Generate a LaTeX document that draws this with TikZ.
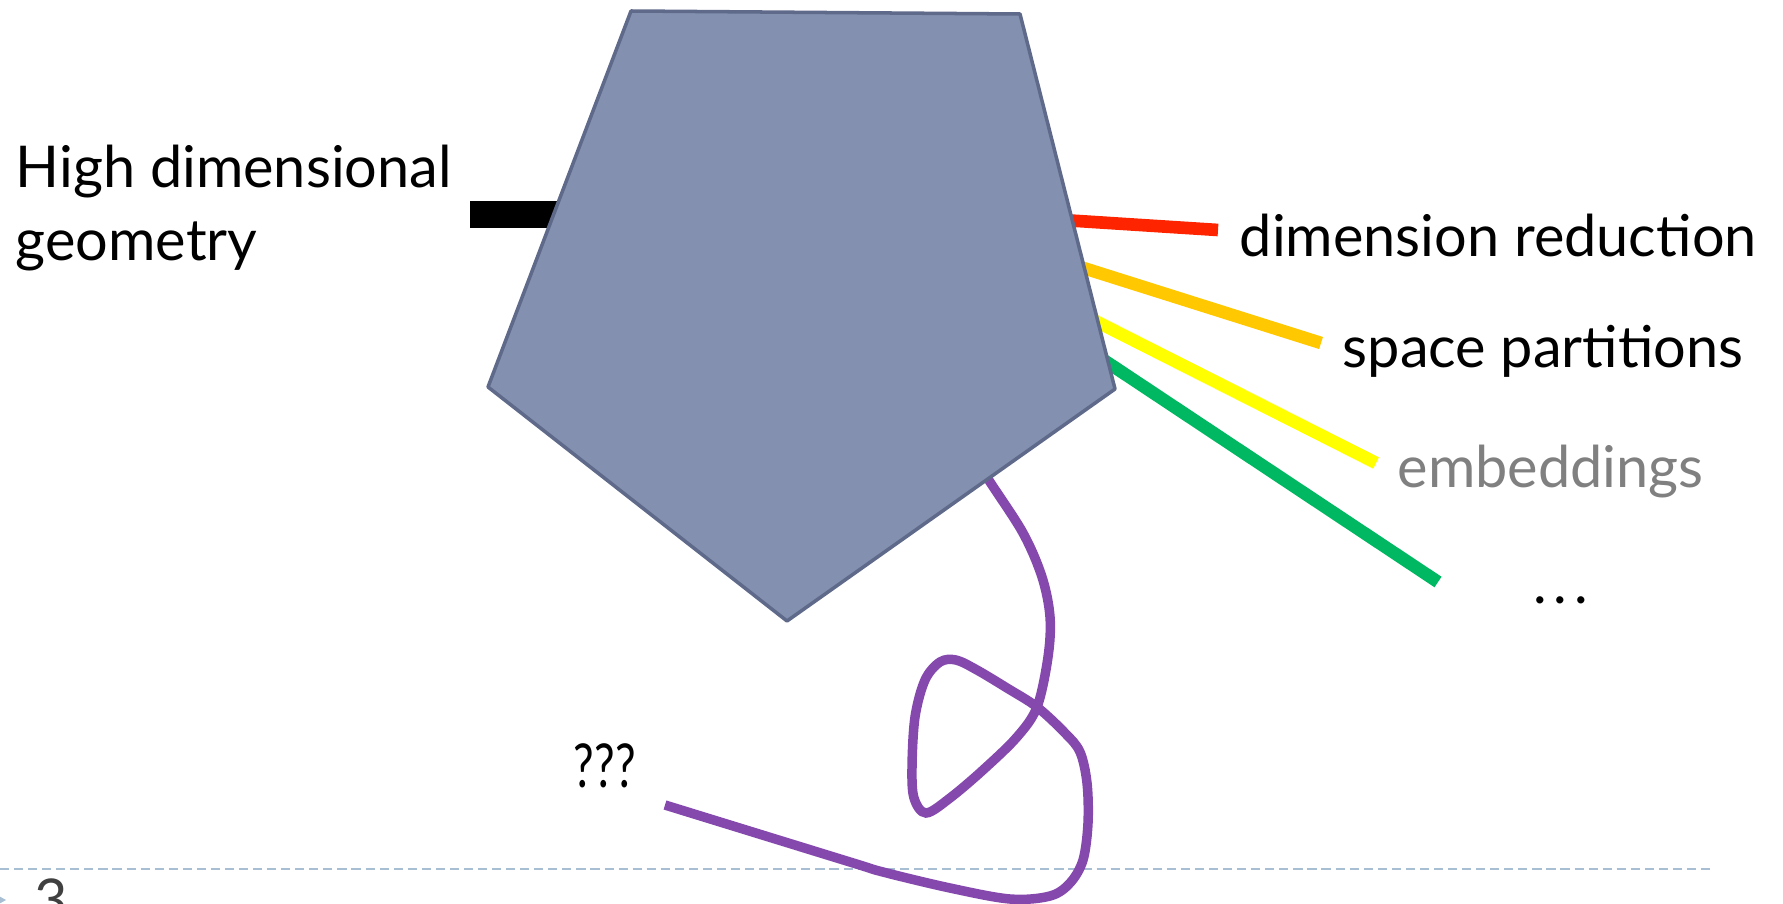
\documentclass[tikz,border=0pt]{standalone}
\usepackage{fontspec}
\setmainfont{Lato}
\usetikzlibrary{positioning}
\definecolor{penfill}{HTML}{8390B0}
\definecolor{penline}{HTML}{5F6A8A}
\definecolor{redsp}{HTML}{FF2400}
\definecolor{orangesp}{HTML}{FFC800}
\definecolor{yellowsp}{HTML}{FFFF00}
\definecolor{greensp}{HTML}{00B862}
\definecolor{loopcol}{HTML}{8549AE}
\definecolor{footcol}{HTML}{A7BED3}
\tikzset{lbl/.style = {font=\fontsize{16.4}{20.8}\selectfont, inner sep=0pt, anchor=base west},
  spoke/.style = {line width=3.6pt}}
\begin{document}
\begin{tikzpicture}[x=.1mm, y=-.1mm]
      \useasboundingbox (0,0) rectangle (1783,903);
      \draw[footcol, line width=.8pt, dash pattern=on 2.6pt off 1.4pt] (0,869) -- (1710,869);
      \fill[footcol] (-12,890) -- (6,900) -- (-12,910) -- cycle;
      \node[lbl, anchor=north west, text=black!75] (page) at (34,878) {3};
      \coordinate (barS) at (470,214.5);
      \coordinate (barE) at (600,214.5);
      \draw[line width=7.7pt] (barS) -- (barE);
      \coordinate (redS) at (1000,216);   \coordinate (redE) at (1218,230);
      \coordinate (orS) at (1020,248);    \coordinate (orE) at (1321,343);
      \coordinate (yeS) at (1040,293);    \coordinate (yeE) at (1376,463);
      \coordinate (grS) at (1060,331);    \coordinate (grE) at (1438,582);
      \draw[spoke, redsp] (redS) -- (redE);
      \draw[spoke, orangesp] (orS) -- (orE);
      \draw[spoke, yellowsp] (yeS) -- (yeE);
      \draw[spoke, greensp] (grS) -- (grE);
      \draw[loopcol, line width=2.7pt, smooth, tension=.55]
        plot coordinates{(975,458) (990,482) (1023,533) (1042,577) (1050,617)
          (1048,657) (1037,707) (1017,737) (983,770) (950,798) (926,813)
          (914,798) (912,767) (915,717) (925,680) (940,662) (956,660)
          (977,670) (1007,688) (1037,707) (1065,733) (1080,752) (1087,783)
          (1088,823) (1083,860) (1070,883) (1050,896) (1010,899) (950,888)
          (883,872) (850,862) (665,805)};
      \draw[penline, fill=penfill, line width=1pt, line join=round]
        (631,11) -- (1020,14) -- (1115,389) -- (787,621) -- (488,387) -- cycle;
      \node[lbl, anchor=north west, align=left] (hdg) at (15,144)
        {High dimensional\\geometry};
      \node[lbl] (dimred) at (1239,256) {dimension reduction};
      \node[lbl] (spacep) at (1342,367) {space partitions};
      \node[lbl, text=black!50] (embed) at (1397,487) {embeddings};
      \node[lbl] (more) at (1533,603) {.\kern1.9pt.\kern1.9pt.};
      \node[lbl] (unk) at (573,787) {\scalebox{.8}[1.05]{???}};
\end{tikzpicture}
\end{document}
